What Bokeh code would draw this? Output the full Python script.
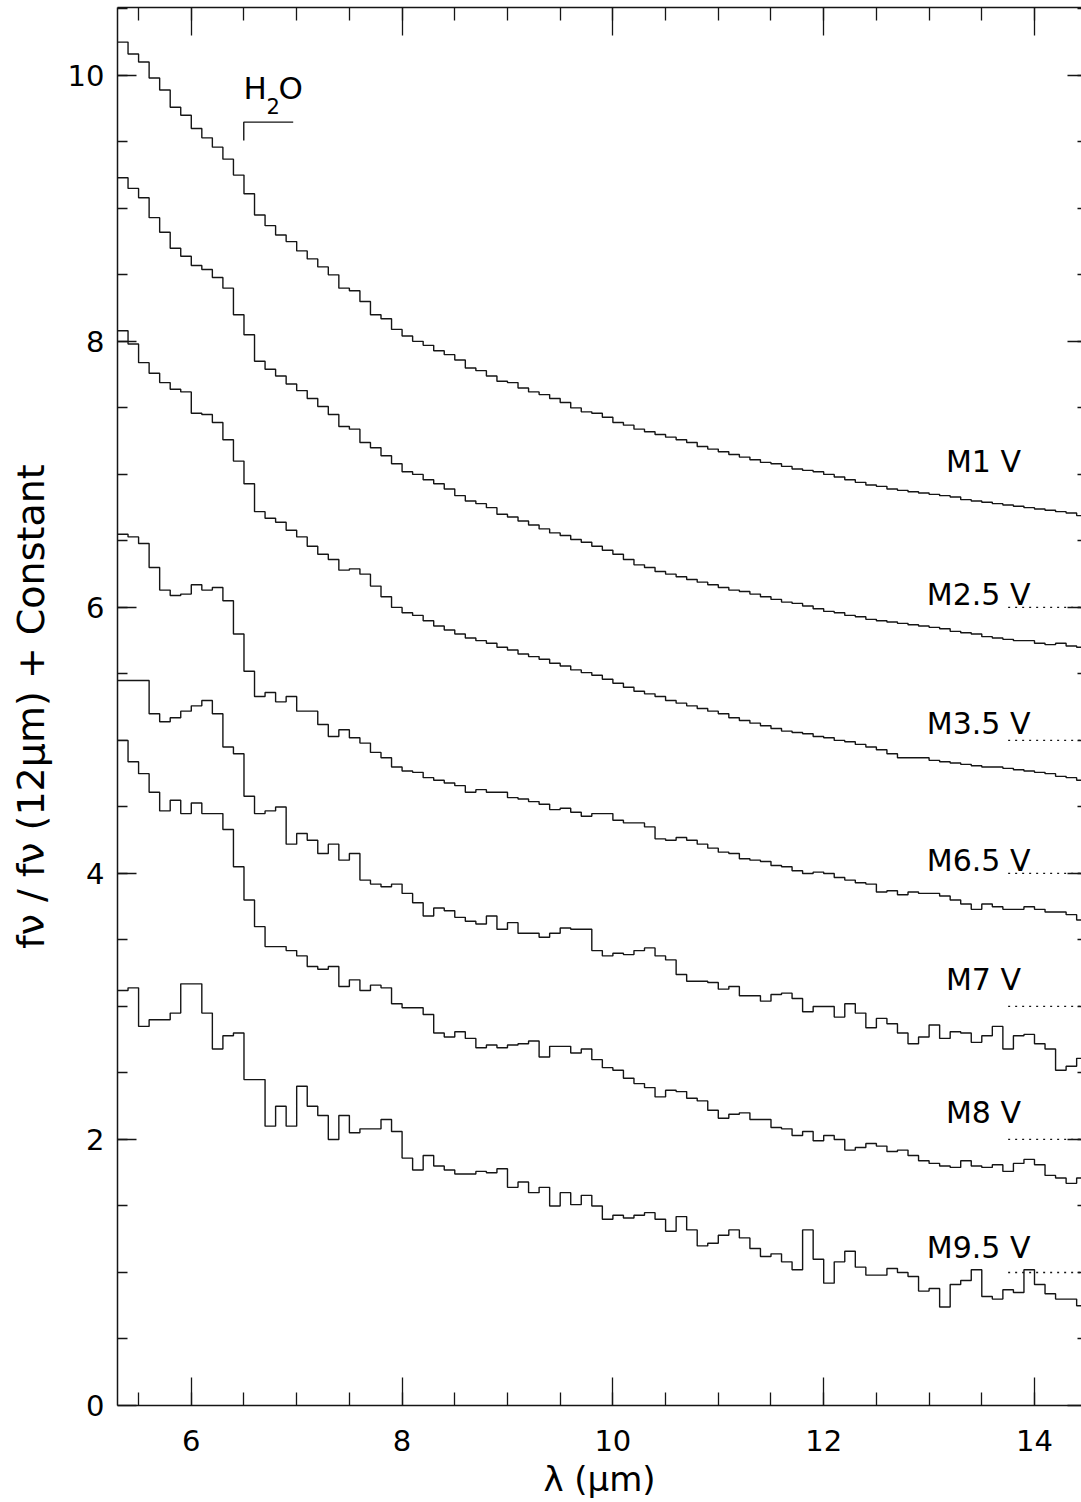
from bokeh.plotting import figure
from bokeh.models import Range1d, LinearAxis, FixedTicker, Label, ColumnDataSource
from bokeh.embed import file_html
from bokeh.resources import INLINE
from bokeh.core.properties import value

# ---------------- data ----------------
# bin centres (micron), 0.1 micron bins
wavelength = [
    5.35, 5.45, 5.55, 5.65, 5.75, 5.85, 5.95, 6.05, 6.15, 6.25,
    6.35, 6.45, 6.55, 6.65, 6.75, 6.85, 6.95, 7.05, 7.15, 7.25,
    7.35, 7.45, 7.55, 7.65, 7.75, 7.85, 7.95, 8.05, 8.15, 8.25,
    8.35, 8.45, 8.55, 8.65, 8.75, 8.85, 8.95, 9.05, 9.15, 9.25,
    9.35, 9.45, 9.55, 9.65, 9.75, 9.85, 9.95, 10.05, 10.15, 10.25,
    10.35, 10.45, 10.55, 10.65, 10.75, 10.85, 10.95, 11.05, 11.15, 11.25,
    11.35, 11.45, 11.55, 11.65, 11.75, 11.85, 11.95, 12.05, 12.15, 12.25,
    12.35, 12.45, 12.55, 12.65, 12.75, 12.85, 12.95, 13.05, 13.15, 13.25,
    13.35, 13.45, 13.55, 13.65, 13.75, 13.85, 13.95, 14.05, 14.15, 14.25,
    14.35, 14.45,
]

m1_v = [
    10.25, 10.16, 10.10, 9.98, 9.89, 9.76, 9.70, 9.60, 9.53, 9.46,
    9.37, 9.25, 9.11, 8.95, 8.87, 8.80, 8.75, 8.68, 8.62, 8.56,
    8.50, 8.40, 8.38, 8.30, 8.20, 8.17, 8.09, 8.04, 8.00, 7.97,
    7.93, 7.90, 7.86, 7.80, 7.78, 7.74, 7.70, 7.69, 7.65, 7.62,
    7.60, 7.57, 7.54, 7.50, 7.47, 7.46, 7.43, 7.39, 7.37, 7.34,
    7.32, 7.30, 7.28, 7.26, 7.24, 7.21, 7.19, 7.17, 7.15, 7.13,
    7.11, 7.09, 7.08, 7.06, 7.04, 7.03, 7.02, 7.00, 6.98, 6.96,
    6.94, 6.92, 6.91, 6.89, 6.88, 6.87, 6.86, 6.85, 6.84, 6.83,
    6.81, 6.80, 6.79, 6.78, 6.77, 6.76, 6.75, 6.74, 6.73, 6.72,
    6.71, 6.69,
]
m25_v = [
    9.23, 9.15, 9.08, 8.93, 8.82, 8.70, 8.64, 8.57, 8.54, 8.48,
    8.40, 8.20, 8.05, 7.85, 7.79, 7.74, 7.68, 7.63, 7.57, 7.51,
    7.45, 7.36, 7.34, 7.24, 7.20, 7.14, 7.08, 7.02, 7.00, 6.96,
    6.93, 6.89, 6.84, 6.80, 6.78, 6.75, 6.70, 6.68, 6.65, 6.62,
    6.59, 6.56, 6.54, 6.51, 6.49, 6.46, 6.43, 6.40, 6.36, 6.32,
    6.30, 6.27, 6.25, 6.23, 6.21, 6.19, 6.17, 6.15, 6.13, 6.12,
    6.10, 6.08, 6.06, 6.04, 6.03, 6.01, 5.99, 5.97, 5.96, 5.94,
    5.93, 5.91, 5.90, 5.89, 5.88, 5.87, 5.86, 5.85, 5.84, 5.82,
    5.81, 5.80, 5.78, 5.77, 5.76, 5.75, 5.75, 5.73, 5.72, 5.73,
    5.71, 5.70,
]
m35_v = [
    8.08, 7.98, 7.84, 7.76, 7.69, 7.64, 7.62, 7.46, 7.45, 7.39,
    7.26, 7.10, 6.93, 6.72, 6.67, 6.64, 6.58, 6.53, 6.46, 6.40,
    6.36, 6.28, 6.29, 6.25, 6.16, 6.08, 6.00, 5.96, 5.94, 5.90,
    5.86, 5.83, 5.80, 5.77, 5.75, 5.73, 5.70, 5.68, 5.65, 5.63,
    5.61, 5.58, 5.56, 5.53, 5.51, 5.49, 5.46, 5.43, 5.40, 5.37,
    5.35, 5.33, 5.30, 5.28, 5.26, 5.24, 5.22, 5.20, 5.17, 5.15,
    5.13, 5.11, 5.09, 5.07, 5.06, 5.05, 5.03, 5.02, 5.00, 4.99,
    4.97, 4.95, 4.93, 4.90, 4.87, 4.87, 4.87, 4.85, 4.84, 4.83,
    4.82, 4.81, 4.80, 4.80, 4.79, 4.78, 4.77, 4.76, 4.75, 4.73,
    4.72, 4.70,
]
m65_v = [
    6.55, 6.53, 6.48, 6.30, 6.13, 6.09, 6.10, 6.17, 6.13, 6.15,
    6.05, 5.80, 5.52, 5.33, 5.36, 5.29, 5.33, 5.22, 5.22, 5.12,
    5.03, 5.08, 5.02, 4.98, 4.91, 4.87, 4.80, 4.77, 4.76, 4.72,
    4.70, 4.68, 4.66, 4.61, 4.63, 4.61, 4.61, 4.57, 4.56, 4.54,
    4.52, 4.48, 4.49, 4.46, 4.43, 4.45, 4.45, 4.40, 4.38, 4.38,
    4.35, 4.26, 4.25, 4.27, 4.25, 4.22, 4.19, 4.16, 4.15, 4.11,
    4.10, 4.09, 4.06, 4.05, 4.02, 4.00, 4.01, 4.00, 3.97, 3.95,
    3.93, 3.92, 3.86, 3.87, 3.84, 3.86, 3.85, 3.85, 3.83, 3.80,
    3.77, 3.73, 3.77, 3.75, 3.73, 3.73, 3.75, 3.73, 3.71, 3.71,
    3.69, 3.65,
]
m7_v = [
    5.45, 5.45, 5.45, 5.20, 5.14, 5.17, 5.22, 5.26, 5.30, 5.20,
    4.95, 4.90, 4.58, 4.45, 4.47, 4.50, 4.22, 4.30, 4.25, 4.15,
    4.22, 4.10, 4.15, 3.95, 3.92, 3.90, 3.92, 3.85, 3.78, 3.68,
    3.74, 3.72, 3.67, 3.64, 3.62, 3.68, 3.58, 3.63, 3.55, 3.55,
    3.52, 3.55, 3.59, 3.58, 3.58, 3.42, 3.38, 3.40, 3.39, 3.42,
    3.44, 3.38, 3.35, 3.24, 3.19, 3.19, 3.18, 3.13, 3.15, 3.08,
    3.08, 3.04, 3.09, 3.10, 3.06, 2.96, 3.00, 3.00, 2.92, 3.02,
    2.95, 2.84, 2.91, 2.87, 2.80, 2.72, 2.77, 2.86, 2.76, 2.81,
    2.80, 2.73, 2.78, 2.85, 2.68, 2.78, 2.79, 2.72, 2.68, 2.52,
    2.55, 2.61,
]
m8_v = [
    5.00, 4.84, 4.75, 4.61, 4.47, 4.55, 4.45, 4.53, 4.45, 4.45,
    4.33, 4.05, 3.80, 3.60, 3.45, 3.45, 3.42, 3.38, 3.30, 3.28,
    3.30, 3.15, 3.20, 3.12, 3.16, 3.14, 3.02, 2.99, 2.99, 2.94,
    2.80, 2.77, 2.81, 2.76, 2.69, 2.71, 2.69, 2.71, 2.72, 2.74,
    2.62, 2.70, 2.70, 2.65, 2.68, 2.60, 2.54, 2.52, 2.46, 2.42,
    2.39, 2.32, 2.37, 2.36, 2.31, 2.29, 2.22, 2.16, 2.19, 2.20,
    2.15, 2.15, 2.09, 2.08, 2.03, 2.06, 1.99, 2.03, 2.00, 1.92,
    1.94, 1.97, 1.95, 1.91, 1.92, 1.88, 1.84, 1.82, 1.80, 1.79,
    1.84, 1.80, 1.79, 1.81, 1.76, 1.82, 1.85, 1.81, 1.73, 1.71,
    1.67, 1.71,
]
m95_v = [
    3.12, 3.14, 2.85, 2.90, 2.90, 2.95, 3.17, 3.17, 2.95, 2.68,
    2.78, 2.80, 2.45, 2.45, 2.10, 2.25, 2.10, 2.40, 2.25, 2.18,
    2.00, 2.18, 2.05, 2.08, 2.08, 2.15, 2.06, 1.86, 1.77, 1.88,
    1.80, 1.77, 1.74, 1.74, 1.76, 1.75, 1.78, 1.64, 1.68, 1.60,
    1.64, 1.50, 1.60, 1.51, 1.58, 1.50, 1.40, 1.43, 1.41, 1.43,
    1.45, 1.40, 1.31, 1.42, 1.32, 1.20, 1.22, 1.28, 1.32, 1.26,
    1.18, 1.12, 1.14, 1.08, 1.02, 1.32, 1.10, 0.92, 1.08, 1.16,
    1.04, 0.98, 0.98, 1.03, 1.00, 0.97, 0.86, 0.88, 0.74, 0.91,
    0.94, 1.02, 0.82, 0.80, 0.87, 0.85, 1.02, 0.91, 0.84, 0.80,
    0.80, 0.75,
]

spectral_types = ["M1  V", "M2.5 V", "M3.5 V", "M6.5 V", "M7  V", "M8  V", "M9.5 V"]
series = [m1_v, m25_v, m35_v, m65_v, m7_v, m8_v, m95_v]
# constant offset of each spectrum, marked by a dotted line at the right
offsets = [None, 6, 5, 4, 3, 2, 1]

x_major = [6, 8, 10, 12, 14]
x_minor = [5.5, 6.0, 6.5, 7.0, 7.5, 8.0, 8.5, 9.0, 9.5, 10.0, 10.5,
           11.0, 11.5, 12.0, 12.5, 13.0, 13.5, 14.0, 14.5]
y_major = [0, 2, 4, 6, 8, 10]
y_minor = [0.5, 1.0, 1.5, 2.0, 2.5, 3.0, 3.5, 4.0, 4.5, 5.0, 5.5, 6.0, 6.5,
           7.0, 7.5, 8.0, 8.5, 9.0, 9.5, 10.0, 10.5]

x_title = "λ (μm)"
y_title = "fν / fν (12μm) + Constant"

# ---------------- layout constants ----------------
FONT = "DejaVu Sans"
INK = "#151515"
label_x = 13.962
label_y = [7.10, 6.10, 5.13, 4.10, 3.20, 2.20, 1.19]
dot_x0 = 13.75
dot_x1 = 14.5

p = figure(width=1081, height=1502, output_backend="svg", toolbar_location=None,
           x_range=Range1d(5.3, 14.446), y_range=Range1d(0, 10.51),
           min_border_left=117, min_border_right=0, min_border_top=7,
           min_border_bottom=97)
p.grid.visible = False
p.outline_line_color = None
p.background_fill_color = "white"
p.border_fill_color = "white"

xt = FixedTicker(ticks=x_major, minor_ticks=x_minor)
yt = FixedTicker(ticks=y_major, minor_ticks=y_minor)


def style_axis(ax, maj, mnr, show_labels=True, line=True):
    ax.axis_line_color = INK if line else None
    ax.axis_line_width = 1.5
    ax.major_tick_line_color = INK
    ax.minor_tick_line_color = INK
    ax.major_tick_line_width = 1.3
    ax.minor_tick_line_width = 1.3
    ax.major_tick_in = maj
    ax.major_tick_out = 0
    ax.minor_tick_in = mnr
    ax.minor_tick_out = 0
    if show_labels:
        ax.major_label_text_font = FONT
        ax.major_label_text_font_size = "29px"
        ax.major_label_text_color = "black"
    else:
        ax.major_label_text_font_size = "1px"
        ax.major_label_standoff = 0


bx = p.xaxis[0]
bx.ticker = xt
style_axis(bx, 28, 13)
bx.major_label_standoff = 24
bx.axis_label = x_title
bx.axis_label_text_font = FONT
bx.axis_label_text_font_size = "34px"
bx.axis_label_text_font_style = "normal"
bx.axis_label_text_color = "black"
bx.axis_label_standoff = 5

ly = p.yaxis[0]
ly.ticker = yt
style_axis(ly, 19, 10)
ly.major_label_standoff = 13
ly.axis_label = y_title
ly.axis_label_text_font = FONT
ly.axis_label_text_font_size = "38px"
ly.axis_label_text_font_style = "normal"
ly.axis_label_text_color = "black"
ly.axis_label_standoff = 12

tx = LinearAxis(ticker=xt, major_label_overrides={t: "" for t in x_major})
style_axis(tx, 28, 13, show_labels=False)
p.add_layout(tx, "above")

ry = LinearAxis(ticker=yt, major_label_overrides={t: "" for t in y_major})
style_axis(ry, 14, 4, show_labels=False, line=False)
p.add_layout(ry, "right")

# ---------------- spectra (histogram steps) ----------------
edges = [w - 0.05 for w in wavelength] + [wavelength[-1] + 0.05]
for vals in series:
    xs, ys = [], []
    for i, v in enumerate(vals):
        xs += [edges[i], edges[i + 1]]
        ys += [v, v]
    p.line(xs, ys, line_color=INK, line_width=1.4)

# dotted zero-level markers
for off in offsets:
    if off is None:
        continue
    p.line([dot_x0, dot_x1], [off, off], line_color=INK, line_width=1.3,
           line_dash="2 5")

# spectral type labels
src = ColumnDataSource(dict(x=[label_x] * len(spectral_types), y=label_y,
                            t=spectral_types))
p.text(x="x", y="y", text="t", source=src, text_align="right",
       text_baseline="alphabetic", text_font=value(FONT),
       text_font_size="30px", text_color="black")

# H2O band marker
p.line([6.498, 6.498, 6.967], [9.51, 9.648, 9.648], line_color=INK, line_width=1.4)
p.add_layout(Label(x=6.495, y=9.766, text="H", text_font=FONT,
                   text_font_size="31px", text_color="black"))
p.add_layout(Label(x=6.714, y=9.706, text="2", text_font=FONT,
                   text_font_size="21px", text_color="black"))
p.add_layout(Label(x=6.828, y=9.766, text="O", text_font=FONT,
                   text_font_size="31px", text_color="black"))

open("out.html", "w").write(file_html(p, INLINE))
